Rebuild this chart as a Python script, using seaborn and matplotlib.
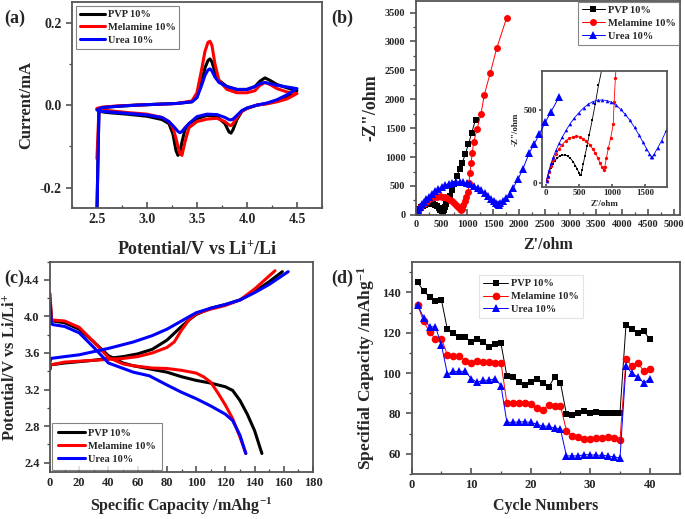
import numpy as np
import pandas as pd
import seaborn as sns
from matplotlib import pyplot as plt
from matplotlib.ticker import AutoMinorLocator, MultipleLocator

sns.set_style('ticks')
plt.rcParams['font.family'] = ['Liberation Serif', 'DejaVu Serif']
plt.rcParams['font.weight'] = 'bold'
plt.rcParams['axes.labelweight'] = 'bold'
plt.rcParams['mathtext.default'] = 'regular'
plt.rcParams['axes.unicode_minus'] = False

names = ['PVP 10%', 'Melamine 10%', 'Urea 10%']
colors = ['#000000', '#ff0000', '#0000ff']
markers = ['s', 'o', '^']

# (a) cyclic voltammetry, anodic sweep then cathodic sweep
cv_fwd_v = [2.5, 2.55, 2.7, 2.9, 3.1, 3.3, 3.45, 3.5, 3.55, 3.58, 3.61, 3.63, 3.65, 3.68,
            3.72, 3.8, 3.9, 4.0, 4.08, 4.13, 4.18, 4.23, 4.3, 4.4, 4.5]
cv_pvp_fwd = [-0.01, -0.006, -0.003, 0.0, 0.002, 0.004, 0.008, 0.02, 0.06, 0.09, 0.108, 0.112, 0.105,
              0.08, 0.06, 0.045, 0.038, 0.038, 0.045, 0.058, 0.066, 0.06, 0.05, 0.042, 0.035]
cv_mel_fwd = [-0.008, -0.005, -0.002, 0.0, 0.002, 0.004, 0.01, 0.03, 0.09, 0.13, 0.152, 0.155, 0.145,
              0.1, 0.06, 0.038, 0.03, 0.03, 0.035, 0.048, 0.055, 0.05, 0.04, 0.032, 0.028]
cv_urea_fwd = [-0.012, -0.006, -0.003, 0.0, 0.002, 0.004, 0.008, 0.018, 0.05, 0.072, 0.085, 0.088, 0.083,
               0.068, 0.055, 0.045, 0.038, 0.038, 0.045, 0.052, 0.055, 0.052, 0.048, 0.044, 0.04]

cv_rev_v = [4.5, 4.4, 4.3, 4.2, 4.1, 4.0, 3.95, 3.9, 3.86, 3.84, 3.82, 3.78, 3.7, 3.6, 3.5, 3.42,
            3.38, 3.35, 3.33, 3.31, 3.29, 3.26, 3.22, 3.15, 3.0, 2.8, 2.6, 2.52, 2.5]
cv_pvp_rev = [0.035, 0.02, 0.01, 0.004, 0.0, -0.008, -0.015, -0.035, -0.06, -0.068, -0.065, -0.045,
              -0.028, -0.025, -0.033, -0.045, -0.06, -0.09, -0.115, -0.122, -0.11, -0.07, -0.045,
              -0.035, -0.027, -0.022, -0.018, -0.015, -0.26]
cv_mel_rev = [0.028, 0.015, 0.008, 0.003, 0.0, -0.008, -0.015, -0.03, -0.045, -0.05, -0.048, -0.04,
              -0.032, -0.034, -0.04, -0.055, -0.09, -0.122, -0.118, -0.1, -0.08, -0.055, -0.04,
              -0.03, -0.022, -0.018, -0.013, -0.012, -0.13]
cv_urea_rev = [0.04, 0.025, 0.013, 0.005, 0.0, -0.007, -0.013, -0.025, -0.034, -0.036, -0.035, -0.03,
               -0.023, -0.022, -0.028, -0.045, -0.055, -0.064, -0.067, -0.064, -0.058, -0.05, -0.04,
               -0.03, -0.024, -0.02, -0.016, -0.015, -0.26]

# (b) Nyquist plots
eis_pvp_re = [10, 25, 45, 70, 100, 135, 170, 210, 250, 290, 330, 370, 410, 445, 475, 500, 520, 532,
              545, 565, 590, 620, 655, 700, 745, 795, 850, 900, 960, 1020, 1085, 1160]
eis_pvp_im = [15, 40, 70, 100, 128, 152, 170, 183, 190, 190, 183, 168, 145, 118, 92, 70, 55, 55,
              85, 130, 185, 250, 330, 430, 540, 670, 790, 900, 1050, 1220, 1420, 1650]
eis_mel_re = [10, 25, 45, 75, 110, 150, 195, 245, 300, 355, 410, 460, 510, 560, 610, 660, 705, 745,
              785, 820, 850, 872, 890, 915, 945, 980, 1018, 1031, 1050, 1075, 1094, 1126, 1190,
              1266, 1330, 1444, 1571, 1762]
eis_mel_im = [15, 40, 75, 115, 155, 195, 230, 262, 288, 306, 316, 318, 314, 303, 286, 262, 235, 205,
              170, 135, 105, 88, 110, 170, 240, 310, 402, 557, 718, 902, 1074, 1264, 1494,
              1753, 2080, 2453, 2885, 3409]
eis_urea_re = [10, 25, 50, 80, 115, 155, 200, 250, 305, 365, 430, 500, 570, 640, 710, 780, 850, 920,
               990, 1060, 1130, 1200, 1270, 1340, 1405, 1465, 1520, 1565, 1595, 1610,
               1640, 1690, 1750, 1820, 1890, 1985, 2080, 2200, 2300, 2400, 2510, 2620, 2780]
eis_urea_im = [15, 45, 90, 135, 180, 225, 270, 315, 360, 405, 445, 482, 515, 540, 558, 567, 569, 565,
               553, 533, 505, 470, 428, 380, 330, 280, 235, 200, 180, 178,
               200, 240, 290, 360, 470, 620, 800, 1070, 1230, 1400, 1600, 1780, 2040]

# (c) charge / discharge profiles
chg_pvp_cap = [0, 0.5, 10, 30, 40, 50, 60, 70, 80, 90, 95, 100, 110, 120, 130, 140, 150, 159]
chg_pvp_v = [3.42, 3.47, 3.49, 3.52, 3.54, 3.56, 3.59, 3.64, 3.74, 3.89, 3.96, 4.02, 4.09, 4.13,
             4.18, 4.27, 4.38, 4.49]
chg_mel_cap = [0, 0.5, 10, 30, 50, 60, 70, 80, 85, 90, 95, 100, 110, 120, 130, 140, 154]
chg_mel_v = [3.44, 3.47, 3.5, 3.52, 3.54, 3.56, 3.6, 3.66, 3.72, 3.85, 3.96, 4.03, 4.08, 4.12, 4.18,
             4.3, 4.5]
chg_urea_cap = [0, 0.5, 10, 20, 40, 57, 70, 80, 90, 100, 110, 120, 130, 140, 150, 163]
chg_urea_v = [3.5, 3.54, 3.56, 3.58, 3.65, 3.72, 3.79, 3.86, 3.95, 4.04, 4.09, 4.13, 4.18, 4.26,
              4.35, 4.49]

dis_pvp_cap = [0, 1, 2, 10, 20, 30, 40, 50, 57, 70, 80, 90, 100, 110, 120, 125, 130, 135, 140, 145]
dis_pvp_v = [4.2, 3.96, 3.95, 3.93, 3.86, 3.72, 3.57, 3.49, 3.46, 3.42, 3.39, 3.34, 3.3, 3.27, 3.23,
             3.19, 3.08, 2.93, 2.75, 2.5]
dis_mel_cap = [0, 1, 2, 10, 20, 30, 40, 50, 57, 70, 80, 90, 100, 105, 110, 115, 120, 125, 130, 134]
dis_mel_v = [4.25, 3.97, 3.96, 3.95, 3.88, 3.72, 3.55, 3.48, 3.46, 3.435, 3.43, 3.41, 3.38, 3.34,
             3.28, 3.16, 3.03, 2.88, 2.68, 2.5]
dis_urea_cap = [0, 1, 2, 10, 20, 30, 40, 57, 68, 80, 90, 100, 110, 120, 125, 130, 134]
dis_urea_v = [4.15, 3.92, 3.91, 3.89, 3.82, 3.66, 3.49, 3.39, 3.35, 3.25, 3.17, 3.1, 3.02, 2.93,
              2.86, 2.7, 2.5]

# (d) rate capability
cycles = list(range(1, 41))
rate_pvp = [144.9, 140.8, 137.6, 135.6, 136.2, 121.6, 119.6, 118.0, 118.0, 115.2,
            116.8, 115.5, 113.0, 114.2, 114.7, 98.4, 97.9, 95.4, 94.3, 95.4,
            97.2, 95.1, 93.0, 97.9, 95.1, 79.6, 79.1, 80.4, 81.2, 80.4,
            80.9, 80.1, 80.1, 80.1, 80.4, 123.7, 122.0, 119.9, 120.7, 116.8]
rate_mel = [133.8, 125.6, 120.4, 116.8, 117.1, 109.0, 108.2, 108.2, 106.0, 105.2,
            106.2, 105.7, 105.4, 105.2, 105.2, 85.0, 85.0, 85.0, 85.0, 84.5,
            82.5, 81.7, 84.2, 83.7, 83.7, 71.4, 69.0, 68.2, 67.3, 67.3,
            67.7, 67.7, 68.5, 67.7, 66.9, 106.9, 103.6, 105.2, 100.8, 102.0]
rate_urea = [133.8, 127.4, 122.9, 122.9, 113.9, 99.5, 100.8, 100.8, 100.8, 97.2,
             95.4, 96.4, 96.4, 97.2, 93.8, 75.5, 75.5, 75.8, 75.8, 75.5,
             74.7, 73.6, 73.6, 72.6, 72.2, 58.9, 58.9, 58.9, 59.5, 59.5,
             59.2, 59.2, 58.9, 58.4, 57.9, 103.3, 100.0, 98.0, 95.1, 97.1]


def style_axes(ax, labelsize=10):
    for sp in ax.spines.values():
        sp.set_linewidth(1.3)
        sp.set_color('#555555')
    ax.xaxis.set_minor_locator(AutoMinorLocator(2))
    ax.yaxis.set_minor_locator(AutoMinorLocator(2))
    ax.tick_params(which='major', length=4, width=1.1, labelsize=labelsize, color='#444444')
    ax.tick_params(which='minor', length=2, width=0.9, color='#444444')
    ax.tick_params(axis='x', which='both', direction='in')
    ax.tick_params(axis='y', which='both', direction='out')


def legend(ax, loc, pad=0.3, **kw):
    leg = ax.legend(loc=loc, fontsize=7.5, frameon=True, fancybox=False,
                    labelspacing=0.35, handletextpad=0.3, borderaxespad=pad, **kw)
    leg.get_frame().set_edgecolor('#666666')
    leg.get_frame().set_linewidth(0.8)
    for t in leg.get_texts():
        t.set_fontweight('bold')
    return leg


fig = plt.figure(figsize=(6.85, 5.19), dpi=100)
ax_a = fig.add_axes([0.105, 0.599, 0.365, 0.397])
ax_b = fig.add_axes([0.607, 0.586, 0.386, 0.412])
ax_c = fig.add_axes([0.073, 0.091, 0.384, 0.405])
ax_d = fig.add_axes([0.601, 0.087, 0.391, 0.408])

# ---- (a)
cv_sets = [(cv_pvp_fwd, cv_pvp_rev), (cv_mel_fwd, cv_mel_rev), (cv_urea_fwd, cv_urea_rev)]
for (fwd, rev), name, col in zip(cv_sets, names, colors):
    df = pd.DataFrame({'v': cv_fwd_v + cv_rev_v, 'i': fwd + rev})
    sns.lineplot(data=df, x='v', y='i', sort=False, estimator=None, color=col, lw=2.2,
                 label=name, ax=ax_a)
ax_a.set_xlim(2.25, 4.75)
ax_a.set_ylim(-0.25, 0.25)
ax_a.xaxis.set_major_locator(MultipleLocator(0.5))
ax_a.yaxis.set_major_locator(MultipleLocator(0.2))
ax_a.set_xlabel('Potential/V vs Li$^{+}$/Li', fontsize=13, labelpad=10)
ax_a.set_ylabel('Current/mA', fontsize=12)
style_axes(ax_a)
legend(ax_a, 'upper left', pad=0.4, handlelength=2.4, borderpad=0.35)

# ---- (b)
eis_sets = [(eis_pvp_re, eis_pvp_im), (eis_mel_re, eis_mel_im), (eis_urea_re, eis_urea_im)]
big_ms = [4, 5, 5.5]
small_ms = [2, 2.4, 2.6]
ax_in = ax_b.inset_axes([0.477, 0.13, 0.473, 0.544])
ax_in.set_zorder(1.5)
for (re, im), name, col, mk, ms, ms2 in zip(eis_sets, names, colors, markers, big_ms, small_ms):
    df = pd.DataFrame({'re': re, 'im': im})
    sns.lineplot(data=df, x='re', y='im', sort=False, estimator=None, color=col, lw=0.7,
                 marker=mk, markersize=ms, markeredgewidth=0, label=name, ax=ax_b)
    sns.lineplot(data=df, x='re', y='im', sort=False, estimator=None, color=col, lw=0.6,
                 marker=mk, markersize=ms2, markeredgewidth=0, legend=False, ax=ax_in)
ax_b.set_xlim(0, 5130)
ax_b.set_ylim(0, 3700)
ax_b.xaxis.set_major_locator(MultipleLocator(500))
ax_b.yaxis.set_major_locator(MultipleLocator(500))
ax_b.set_xlabel("Z'/ohm", fontsize=11.5, labelpad=6)
ax_b.set_ylabel('-Z"/ohm', fontsize=13)
style_axes(ax_b, labelsize=7.5)
legend(ax_b, 'upper right', pad=0.1, handlelength=2.2, borderpad=0.35)

ax_in.set_xlim(-60, 1830)
ax_in.set_ylim(-30, 770)
ax_in.xaxis.set_major_locator(MultipleLocator(500))
ax_in.yaxis.set_major_locator(MultipleLocator(500))
ax_in.set_xlabel("Z'/ohm", fontsize=6.5, labelpad=2)
ax_in.set_ylabel('-Z"/ohm', fontsize=6.5, labelpad=3)
ax_in.set_facecolor('white')
style_axes(ax_in, labelsize=6.5)
ax_in.tick_params(which='major', length=2, pad=1.5)
ax_in.tick_params(which='minor', length=1)

# ---- (c)
chg_sets = [(chg_pvp_cap, chg_pvp_v, dis_pvp_cap, dis_pvp_v),
            (chg_mel_cap, chg_mel_v, dis_mel_cap, dis_mel_v),
            (chg_urea_cap, chg_urea_v, dis_urea_cap, dis_urea_v)]
for (cc, cv, dc, dv), name, col in zip(chg_sets, names, colors):
    sns.lineplot(x=cc, y=cv, sort=False, estimator=None, color=col, lw=2.2, label=name, ax=ax_c)
    sns.lineplot(x=dc, y=dv, sort=False, estimator=None, color=col, lw=2.2, legend=False, ax=ax_c)
ax_c.set_xlim(0, 180)
ax_c.set_ylim(2.3, 4.6)
ax_c.xaxis.set_major_locator(MultipleLocator(20))
ax_c.yaxis.set_major_locator(MultipleLocator(0.4))
ax_c.set_xlabel('Specific Capacity /mAhg$^{-1}$', fontsize=11.5, labelpad=5)
ax_c.set_ylabel('Potential/V vs Li/Li$^{+}$', fontsize=12, labelpad=4)
style_axes(ax_c, labelsize=9)
legend(ax_c, 'lower left', pad=0.15, handlelength=2.6, borderpad=0.6)

# ---- (d)
rate_sets = [rate_pvp, rate_mel, rate_urea]
d_ms = [4.5, 5.5, 6]
for vals, name, col, mk, ms in zip(rate_sets, names, colors, markers, d_ms):
    sns.lineplot(x=cycles, y=vals, sort=False, estimator=None, color=col, lw=0.7, marker=mk,
                 markersize=ms, markeredgewidth=0, label=name, ax=ax_d)
ax_d.set_xlim(0, 45)
ax_d.set_ylim(50, 155)
ax_d.xaxis.set_major_locator(MultipleLocator(10))
ax_d.yaxis.set_major_locator(MultipleLocator(20))
ax_d.set_xlabel('Cycle Numbers', fontsize=11.5, labelpad=5)
ax_d.set_ylabel('Specifial Capacity /mAhg$^{-1}$', fontsize=12.5)
style_axes(ax_d, labelsize=9)
leg = legend(ax_d, 'upper center', pad=0, handlelength=2.4, borderpad=0.4,
             bbox_to_anchor=(0.446, 0.94))
leg.get_frame().set_edgecolor('#dddddd')

for x, y, lab in [(0.006, 0.965, '(a)'), (0.484, 0.965, '(b)'),
                  (0.006, 0.463, '(c)'), (0.484, 0.463, '(d)')]:
    fig.text(x, y, lab, fontsize=13, fontweight='bold', va='center')

fig.savefig('out.png', dpi=100)
